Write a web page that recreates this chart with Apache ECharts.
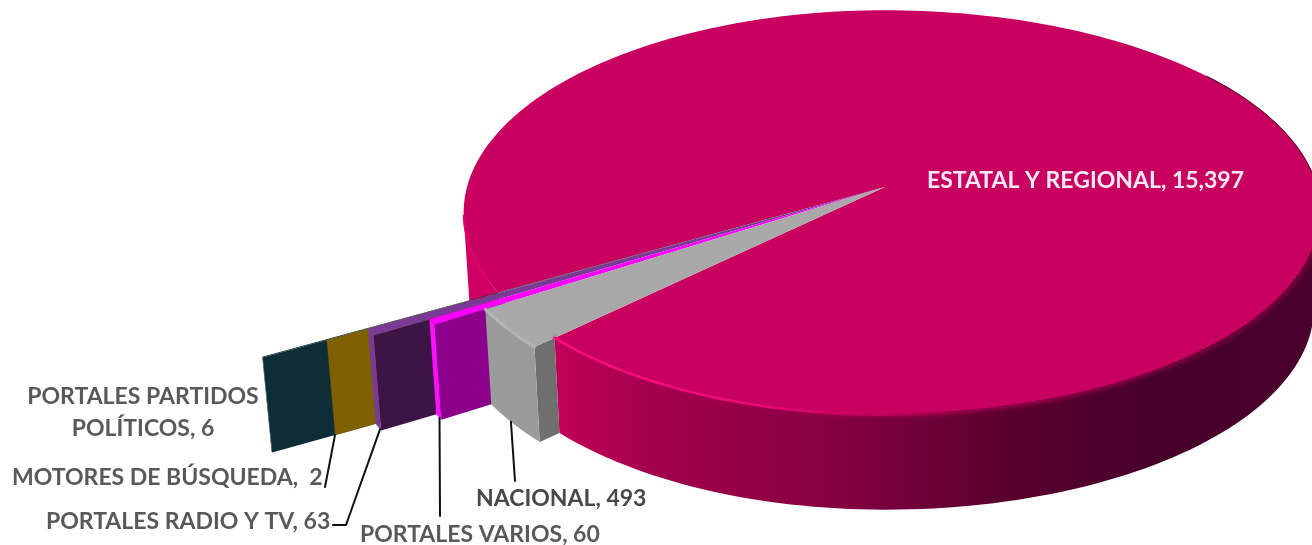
<!DOCTYPE html>
<html>
<head>
<meta charset="utf-8">
<style>html,body{margin:0;padding:0;background:#fff}#c{width:1312px;height:545px}</style>
<script src="https://cdn.jsdelivr.net/npm/echarts@6/dist/echarts.min.js"></script>
</head>
<body>
<div id="c"></div>
<script>
// ---- data (clockwise from the front cut) ----
var categories = ['NACIONAL', 'PORTALES VARIOS', 'PORTALES RADIO Y TV', 'MOTORES DE BÚSQUEDA', 'PORTALES PARTIDOS POLÍTICOS', 'ESTATAL Y REGIONAL'];
var values = [493, 60, 63, 2, 6, 15397];

// ---- drawing settings ----
var CX = 885, CY = 187, RX_L = 418, RX_R = 432, RY = 199, PERSP = 0.126, DEPTH = 95, SQUEEZE = 0.015, START_ANGLE = 223.8;
var reach = [1.055, 1.178, 1.31, 1.405, 1.55, 1];
var looks = [
  {top: '#a9a9a9', outer: '#9b9b9b', cut: '#6f6f6f', bevel: '#b4b4b4'},
  {top: '#ff00ff', outer: '#ff10ff', cut: '#8a008a'},
  {top: '#7a3a96', outer: '#7a3a96', cut: '#3c1445'},
  {top: '#8a6c00', outer: '#7f6000', cut: '#7f6000'},
  {top: '#103038', outer: '#0e2e37', cut: '#0e2e37'},
  {top: '#c8005f'}
];
// label placement: text anchor, alignment, line break, leader end points (page pixels)
var labelLayout = [
  {x: 476, y: 499, align: 'left', color: '#484848', leaderAt: 0.55, leader: [[515, 481]]},
  {x: 360, y: 535, align: 'left', leaderAt: 0.35, leader: [[440, 516]]},
  {x: 46, y: 522, align: 'left', leaderAt: 0.2, leader: [[346, 525], [333, 525]]},
  {x: 12, y: 478, align: 'left', sep: ',  ', leaderAt: 1, leader: [[325, 487]]},
  {x: 143, y: 381, align: 'center', breakAfter: 'PARTIDOS', lineHeight: 32},
  {x: 927, y: 181, align: 'left', color: '#fbeaf3'}
];

var total = values.reduce(function (a, b) { return a + b; }, 0);
var cum = 0, rows = values.map(function (v, i) {
  var row = {name: categories[i], value: [reach[i], cum, cum + v, v, i]};
  cum += v;
  return row;
});
var drawOrder = [5, 4, 3, 2, 1, 0].map(function (i) { return rows[i]; });

function renderSlice(params, api) {
  var r = api.value(0), from = api.value(1), to = api.value(2), val = api.value(3), idx = api.value(4);
  var look = looks[idx], lay = labelLayout[idx];
  function flat(radius, ang) {
    var p = api.coord([radius, ang]);
    return [(p[0] - CX) / 100, (p[1] - CY) / 100];
  }
  function proj(radius, ang) {
    var q = flat(radius, ang), den = 1 - PERSP * q[1];
    return [CX + (q[0] < 0 ? RX_L : RX_R) * q[0] / den, CY + RY * q[1] / den];
  }
  function down(p) { return [p[0] + (CX - p[0]) * SQUEEZE, p[1] + DEPTH]; }
  function arc(radius, a, b, n) {
    var pts = [];
    for (var i = 0; i <= n; i++) pts.push(proj(radius, a + (b - a) * i / n));
    return pts;
  }
  function wall(top) { return top.concat(top.map(down).reverse()); }
  function poly(pts, fill) {
    return {type: 'polygon', shape: {points: pts}, style: {fill: fill}};
  }
  function line(pts, stroke, width, blur) {
    return {type: 'polyline', shape: {points: pts}, z2: 2,
      style: {stroke: stroke, lineWidth: width, fill: 'none', lineCap: 'round', lineJoin: 'round',
        shadowBlur: blur || 0, shadowColor: blur ? 'rgba(200,0,95,0.8)' : 'transparent'}};
  }
  var kids = [];
  if (idx === 5) {
    var n = 240, runs = [[]];
    for (var i = 0; i <= n; i++) {
      var a = from + (to - from) * i / n;
      if (flat(1, a)[1] > 0.12) runs[runs.length - 1].push(a);
      else if (runs[runs.length - 1].length) runs.push([]);
    }
    var sideFill = new echarts.graphic.LinearGradient(556, 0, 1312, 0, [
      {offset: 0, color: '#c2005a'}, {offset: 0.12, color: '#a4004e'}, {offset: 0.38, color: '#840040'},
      {offset: 0.58, color: '#5c002f'}, {offset: 0.78, color: '#47002a'}, {offset: 1, color: '#4a002c'}
    ], true);
    var leftFill = new echarts.graphic.LinearGradient(460, 0, 530, 0, [
      {offset: 0, color: '#cc0060'}, {offset: 1, color: '#d80068'}
    ], true);
    var rimStroke = new echarts.graphic.LinearGradient(556, 0, 1312, 0, [
      {offset: 0, color: '#f5107e'}, {offset: 0.25, color: '#ee0a78'}, {offset: 0.4, color: '#cc0060'},
      {offset: 0.55, color: '#8c0046'}, {offset: 1, color: '#640036'}
    ], true);
    var tops = runs.filter(function (run) { return run.length; }).map(function (run) {
      return run.map(function (a) { return proj(1, a); });
    });
    function isLeft(top) { return top[0][0] < CX && top[top.length - 1][0] < CX; }
    tops.forEach(function (top) { kids.push(poly(wall(top), isLeft(top) ? leftFill : sideFill)); });
    kids.push(poly([[CX, CY]].concat(arc(1, from, to, n)), look.top));
    tops.forEach(function (top) {
      if (isLeft(top)) kids.push(line(top.slice(2), '#e2006c', 2));
      else kids.push(line(top, rimStroke, 2.5, 4));
    });
    kids.push(line(arc(1, from + (to - from) * 0.5, from + (to - from) * 0.76, 80), '#6a0038', 1.2));
  } else {
    var outerTop = arc(r, from, to, 16);
    var cutTop = [proj(1, from), proj(r, from)];
    kids.push(poly(wall(cutTop), look.cut));
    kids.push(poly(wall(outerTop), look.outer));
    kids.push(poly([[CX, CY]].concat(outerTop), look.top));
    if (look.bevel) kids.push(line(outerTop, look.bevel, 3));
  }
  if (lay.leader) {
    var st = down(proj(r, from + (to - from) * lay.leaderAt));
    kids.push(Object.assign(line([st].concat(lay.leader), '#111111', 2), {z2: 50}));
  }
  var name = categories[idx];
  if (lay.breakAfter) name = name.replace(lay.breakAfter + ' ', lay.breakAfter + '\n');
  kids.push({
    type: 'text', z2: 60,
    style: {
      text: name + (lay.sep || ', ') + val.toLocaleString('en-US'),
      x: lay.x, y: lay.y, align: lay.align, verticalAlign: lay.breakAfter ? 'top' : 'middle',
      fill: lay.color || '#595959', font: 'bold 23px Lato, sans-serif',
      lineHeight: lay.lineHeight || 26
    }
  });
  return {type: 'group', children: kids};
}

var chart = echarts.init(document.getElementById('c'), null, {renderer: 'canvas'});
chart.setOption({
  animation: false,
  backgroundColor: '#ffffff',
  polar: {center: [CX, CY], radius: 200},
  angleAxis: {type: 'value', min: 0, max: total, startAngle: START_ANGLE, clockwise: true, show: false},
  radiusAxis: {type: 'value', min: 0, max: 2, show: false},
  series: [{
    type: 'custom', coordinateSystem: 'polar', clip: false,
    encode: {radius: 0, angle: 1},
    renderItem: renderSlice,
    data: drawOrder
  }]
});
</script>
</body>
</html>
